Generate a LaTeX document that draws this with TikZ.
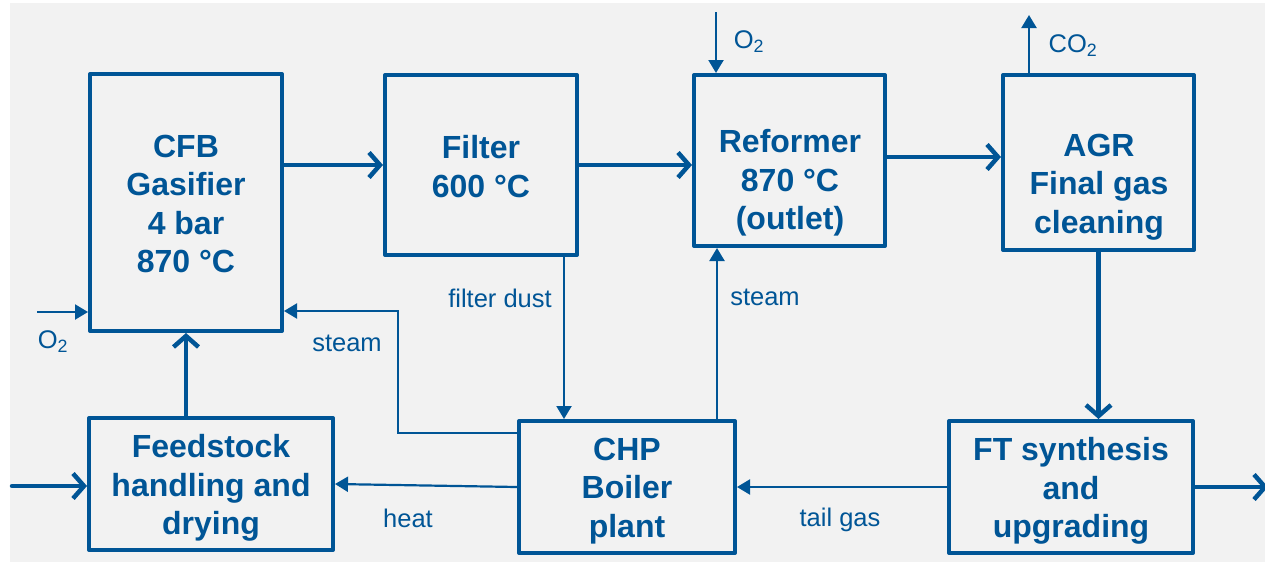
\documentclass[tikz,border=0pt]{standalone}
\usepackage{fontspec}
\setmainfont{Liberation Sans}
\usetikzlibrary{arrows.meta}
\definecolor{bl}{RGB}{0,85,150}
\definecolor{bg}{RGB}{242,242,242}
\tikzset{
  blk/.style={draw=bl, line width=4pt, line join=round, inner sep=0pt, anchor=center},
  blktext/.style={text=bl, font=\fontsize{32}{38.5}\selectfont\bfseries, align=center, inner sep=0pt},
  lbl/.style={text=bl, font=\fontsize{25.5}{30}\selectfont, inner sep=0pt},
  thickarr/.style={draw=bl, line width=4.5pt, line cap=round, -{Straight Barb[length=11pt,width=25pt,line width=4.5pt]}},
  thinarr/.style={draw=bl, line width=2.2pt, -{Triangle[length=13pt,width=15pt]}},
}
\begin{document}
\begin{tikzpicture}[x=1pt,y=-1pt]
\useasboundingbox (0,0) rectangle (1265,562);
\fill[white] (0,0) rectangle (1265,562);
\fill[bg] (10,3) rectangle (1265,562);
% boxes
\node[blk, minimum width=192pt, minimum height=257pt] (cfb) at (186,202.5) {};
\node[blk, minimum width=192pt, minimum height=180pt] (filter) at (481,165) {};
\node[blk, minimum width=191pt, minimum height=171pt] (reformer) at (789.5,160.5) {};
\node[blk, minimum width=191pt, minimum height=175pt] (agr) at (1098.5,162.5) {};
\node[blk, minimum width=244pt, minimum height=132pt] (feed) at (211,484) {};
\node[blk, minimum width=216pt, minimum height=132pt] (chp) at (627,487) {};
\node[blk, minimum width=244pt, minimum height=132pt] (ft) at (1071,487) {};
% box texts
\node[blktext] (tcfb) at (186,204) {CFB\\Gasifier\\4 bar\\870 °C};
\node[blktext] (tfilter) at (481,166.5) {Filter\\600 °C};
\node[blktext] (treformer) at (790,183) {Reformer\\870 °C\\(outlet)};
\node[blktext] (tagr) at (1099,187) {AGR\\Final gas\\cleaning};
\node[blktext] (tfeed) at (211,488) {Feedstock\\handling and\\drying};
\node[blktext] (tchp) at (627,491) {CHP\\Boiler\\plant};
\node[blktext] (tft) at (1071,491) {FT synthesis\\and\\upgrading};
% helper coordinates
\coordinate (y165) at (0,165);
\coordinate (y157) at (0,157);
\coordinate (in) at (12,486);
\coordinate (out) at (1268,487);
\coordinate (o2a) at (37,312);
\coordinate (s1) at (398,433);
\coordinate (s2) at (398,311);
\coordinate (fd) at (564,0);
\coordinate (st) at (717,0);
\coordinate (o2b) at (716,12);
\coordinate (co2) at (1029,15);
% thick arrows
\draw[thickarr] (cfb.east |- y165) -- (filter.west |- y165);
\draw[thickarr] (filter.east |- y165) -- (reformer.west |- y165);
\draw[thickarr] (reformer.east |- y157) -- (agr.west |- y157);
\draw[thickarr] (agr.south) -- (ft.north -| agr.south);
\draw[thickarr] (feed.north -| cfb.south) -- (cfb.south);
\draw[thickarr] (in) -- (feed.west |- in);
\draw[thickarr] (ft.east) -- (out);
% thin arrows
\draw[thinarr] (o2a) -- (cfb.west |- o2a);
\draw[thinarr] (chp.west |- s1) -- (s1) -- (s2) -- (cfb.east |- s2);
\draw[thinarr] (filter.south -| fd) -- (chp.north -| fd);
\draw[thinarr] (chp.north -| st) -- (reformer.south -| st);
\draw[thinarr] (chp.west) -- (feed.east);
\draw[thinarr] (ft.west) -- (chp.east);
\draw[thinarr] (o2b) -- (reformer.north -| o2b);
\draw[thinarr] (agr.north -| co2) -- (co2);
% labels
\node[lbl] (lo2a) at (53,342) {O\textsubscript{2}};
\node[lbl] (lsteam1) at (347,343) {steam};
\node[lbl] (lfd) at (500,298) {filter dust};
\node[lbl] (lsteam2) at (765,297) {steam};
\node[lbl] (lheat) at (408,518) {heat};
\node[lbl] (ltail) at (840,520) {tail gas};
\node[lbl] (lo2b) at (749,42) {O\textsubscript{2}};
\node[lbl] (lco2) at (1073,46) {CO\textsubscript{2}};
\end{tikzpicture}
\end{document}
